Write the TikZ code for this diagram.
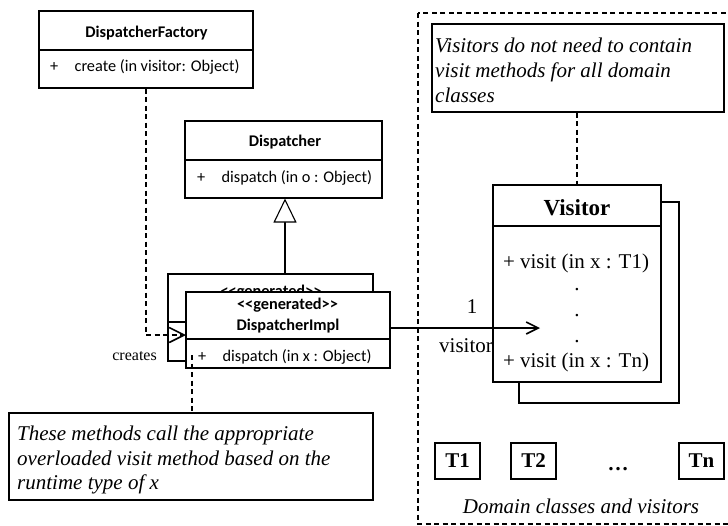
\documentclass[tikz,border=0pt]{standalone}
\usepackage{fontspec}
\setmainfont{Liberation Serif}
\newfontfamily\calibri{Carlito}
\usetikzlibrary{arrows.meta}

\begin{document}
\begin{tikzpicture}[x=1pt,y=-1pt,
  box/.style={draw, line width=1.1pt, fill=white, inner sep=0pt},
  cls/.style={font=\calibri\fontsize{16.3}{19}\selectfont, inner sep=0pt},
  clsb/.style={font=\calibri\bfseries\fontsize{16.3}{19}\selectfont, inner sep=0pt},
  ser/.style={font=\fontsize{21}{24.8}\selectfont, inner sep=0pt},
  seri/.style={font=\itshape\fontsize{21}{24.8}\selectfont, inner sep=0pt, align=left},
  serb/.style={font=\bfseries\fontsize{21}{24.8}\selectfont},
  link/.style={line width=1.1pt},
  dep/.style={line width=1.1pt, dash pattern=on 5pt off 3.5pt},
  barb/.style={-{Straight Barb[length=#1, width=#1, line width=1.6pt]}},
]
\useasboundingbox (0,0) rectangle (728,525);

% frame around the domain classes and visitors
\draw[dep] (418,13) rectangle (745,524);

% DispatcherFactory
\node[box, minimum width=214pt, minimum height=77pt] (factory) at (146,49.5) {};
\draw[link] (factory.west |- 0,50) -- (factory.east |- 0,50);
\node[clsb, anchor=base] (factoryname) at (146.5,37) {DispatcherFactory};
\node[cls, anchor=base west] (factoryop) at (50,71) {+\quad create (in visitor: Object)};

% Dispatcher
\node[box, minimum width=197pt, minimum height=77pt] (disp) at (283.5,159.5) {};
\draw[link] (disp.west |- 0,160) -- (disp.east |- 0,160);
\node[clsb, anchor=base] (dispname) at (285,146) {Dispatcher};
\node[cls, anchor=base west] (dispop) at (197,182) {+\quad dispatch (in o : Object)};

% generated implementations (stacked)
\node[box, minimum width=205pt, minimum height=87pt] (implback) at (270.5,317.5) {};
\draw[link] (implback.west |- 0,322) -- (implback.east |- 0,322);
\node[clsb, anchor=base] (implbackstereo) at (271,296) {<{}<generated>{}>};

% generalization to Dispatcher
\coordinate (genfoot) at (285,292);
\draw[link, -{Triangle[open, length=24pt, width=23pt, fill=white, line width=1.1pt]}]
  (genfoot |- implback.north) -- (genfoot |- disp.south);

\node[box, minimum width=204pt, minimum height=76pt] (impl) at (288,330) {};
\draw[link] (impl.west |- 0,339) -- (impl.east |- 0,339);
\node[clsb, anchor=base] (implstereo) at (287.5,309) {<{}<generated>{}>};
\node[clsb, anchor=base] (implname) at (288,330) {DispatcherImpl};
\node[cls, anchor=base west] (implop) at (198,361) {+\quad dispatch (in x : Object)};
\coordinate (implopanchor) at (192,355);

% creates dependency
\coordinate (createtip) at (186,335);
\draw[dep, barb=15pt] (factory.south) |- (createtip);
\node[ser, font=\fontsize{16}{19}\selectfont, anchor=base east] (createslabel) at (157,360) {creates};

% note on dispatch methods
\node[box, minimum width=364pt, minimum height=87pt] (lownote) at (191,456.5) {};
\node[seri, anchor=north west] (lownotetext) at (17,425.5)
  {These methods call the appropriate\\overloaded visit method based on the\\runtime type of \textit{x}};
\draw[dep] (implopanchor) -- (implopanchor |- lownote.north);

% Visitor (stacked)
\node[box, minimum width=160pt, minimum height=201pt] (visitorback) at (599,302.5) {};
\node[box, minimum width=168pt, minimum height=197pt] (visitor) at (577,283.5) {};
\draw[link] (visitor.west |- 0,226) -- (visitor.east |- 0,226);
\node[serb, font=\bfseries\fontsize{23}{27}\selectfont, anchor=base, inner sep=0pt] (visitorname) at (577,215) {Visitor};
\node[ser, anchor=base] (visitop1) at (576,268) {+ visit (in x : T1)};
\node[ser, anchor=base] (dot1) at (577,290) {.};
\node[ser, anchor=base] (dot2) at (577,316) {.};
\node[ser, anchor=base] (dot3) at (577,342) {.};
\node[ser, anchor=base] (visitopn) at (576,367) {+ visit (in x : Tn)};

% note on visitors
\node[box, minimum width=292pt, minimum height=88pt] (topnote) at (578,68) {};
\node[seri, anchor=north west] (topnotetext) at (435,37.7)
  {Visitors do not need to contain\\visit methods for all domain\\classes};
\draw[dep] (topnote.south -| visitor.north) -- (visitor.north);

% association to Visitor
\coordinate (visitorin) at (540,328);
\draw[link, barb=12pt] (impl.east |- visitorin) -- (visitorin);
\node[ser, anchor=base] (multlabel) at (472,313) {1};
\node[ser, anchor=base] (rolelabel) at (466,352) {visitor};

% domain classes
\node[box, serb, minimum width=45pt, minimum height=36pt] (t1) at (457.5,461) {T1};
\node[box, serb, minimum width=45pt, minimum height=36pt] (t2) at (533.5,461) {T2};
\node[box, serb, minimum width=45pt, minimum height=36pt] (tn) at (701.5,461) {Tn};
\node[serb, anchor=base, inner sep=0pt] (tdots) at (618,470) {…};
\node[seri, anchor=base] (domaincaption) at (581,513) {Domain classes and visitors};
\end{tikzpicture}
\end{document}
